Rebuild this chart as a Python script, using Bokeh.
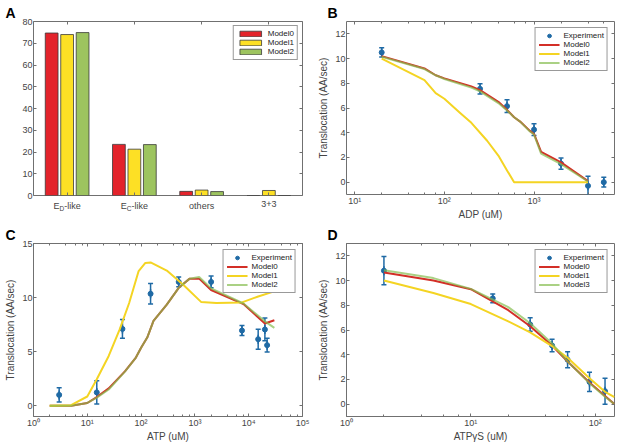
import math
from bokeh.plotting import figure
from bokeh.models import (ColumnDataSource, Legend, LegendItem, Whisker, TeeHead,
                          FixedTicker, LogAxis, LinearAxis, LogTicker, CustomJSTickFormatter, Range1d)
from bokeh.layouts import column, row
from bokeh.embed import file_html
from bokeh.resources import INLINE
from bokeh.core.properties import value

# ---------------- data ----------------
# Panel A
states = ["E_D-like", "E_C-like", "others", "3+3"]
model0_pct = [74.7, 23.5, 1.9, 0.0]
model1_pct = [74.0, 21.3, 2.5, 2.3]
model2_pct = [74.9, 23.4, 1.8, 0.0]
a_yticks = [0, 10, 20, 30, 40, 50, 60, 70, 80]

# Panel B (ADP)
adp_exp_x = [20, 250, 500, 1000, 2000, 4000, 6000]
adp_exp_y = [10.5, 7.55, 6.15, 4.25, 1.5, -0.3, 0.0]
adp_exp_err = [0.38, 0.42, 0.52, 0.48, 0.46, 0.78, 0.4]
adp_model_x = [20, 60, 80, 100, 200, 250, 400, 500, 600, 700, 900, 1000, 1200, 2000, 4000]
adp_model0 = [10.2, 9.2, 8.65, 8.4, 7.75, 7.45, 6.5, 5.85, 5.25, 4.9, 4.15, 3.9, 2.45, 1.6, 0.08]
adp_model2 = [10.15, 9.15, 8.65, 8.35, 7.65, 7.35, 6.4, 5.8, 5.25, 4.9, 4.1, 3.85, 2.3, 1.45, 0.05]
adp_model1_x = [20, 60, 80, 100, 150, 200, 300, 400, 500, 600, 4000]
adp_model1 = [10.0, 8.25, 7.2, 6.75, 5.6, 4.8, 3.35, 2.15, 0.95, 0.0, 0.0]
b_yticks = [0, 2, 4, 6, 8, 10, 12]

# Panel C (ATP)
atp_exp_x = [3, 15, 45, 150, 500, 2000, 7500, 15000, 20000, 22000]
atp_exp_y = [1.0, 1.23, 7.1, 10.35, 11.45, 11.45, 6.95, 6.15, 7.05, 5.6]
atp_exp_err = [0.65, 1.07, 0.86, 0.94, 0.46, 0.55, 0.46, 0.92, 1.05, 0.63]
atp_model_x = [2, 5, 10, 15, 25, 50, 80, 100, 130, 170, 300, 500, 800, 1200, 2000, 8000, 20000, 30000]
atp_model0 = [0, 0, 0.25, 0.8, 1.6, 3.17, 4.45, 5.35, 6.3, 7.85, 9.35, 10.9, 11.75, 11.75, 10.7, 9.4, 7.6, 7.9]
atp_model2 = [0, 0, 0.25, 0.75, 1.5, 3.15, 4.45, 5.35, 6.3, 7.85, 9.35, 10.9, 11.75, 11.9, 10.85, 9.45, 7.8, 7.2]
atp_model1_x = [2, 5, 10, 15, 25, 40, 60, 90, 120, 150, 300, 600, 1300, 2500, 7500, 15000, 27000]
atp_model1 = [0, 0.05, 0.85, 2.45, 4.6, 7.05, 9.5, 12.45, 13.2, 13.25, 12.5, 11.2, 9.6, 9.5, 9.55, 10.1, 10.5]
c_yticks = [0, 5, 10, 15]

# Panel D (ATPgammaS)
atps_exp_x = [2, 15, 30, 45, 60, 90, 120]
atps_exp_y = [10.8, 8.56, 6.45, 4.75, 3.6, 1.8, 1.05]
atps_exp_err = [1.14, 0.36, 0.55, 0.5, 0.65, 0.78, 1.05]
atps_model_x = [2, 5, 10, 20, 30, 45, 60, 90, 120, 143]
atps_model0 = [10.65, 10.0, 9.3, 7.6, 6.3, 4.75, 3.45, 1.75, 0.65, 0.0]
atps_model1 = [10.0, 9.0, 8.1, 6.7, 5.8, 4.7, 3.75, 2.1, 1.0, 0.56]
atps_model3 = [10.83, 10.2, 9.33, 7.85, 6.55, 4.9, 3.45, 1.7, 0.6, 0.0]
d_yticks = [0, 2, 4, 6, 8, 10, 12]

# ---------------- style ----------------
FONT = "Liberation Sans"
TXT = "#444444"
BOX = "#707070"
BAR_RED, BAR_YEL, BAR_GRN = "#e3232b", "#fde025", "#9dc45f"
RED, YEL, GRN = "#d32f27", "#f4d423", "#86bd50"
BLUE = "#1f6aa5"

LOG_FMT = CustomJSTickFormatter(code="""
const sup = {"-":"\u207b","0":"\u2070","1":"\u00b9","2":"\u00b2","3":"\u00b3","4":"\u2074","5":"\u2075","6":"\u2076","7":"\u2077","8":"\u2078","9":"\u2079"};
const e = Math.round(Math.log10(tick));
return "10" + String(e).split("").map(c => sup[c]).join("");
""")
EMPTY_FMT = CustomJSTickFormatter(code="return '';")


def style_axis(ax, labels=True, minor=False, label_standoff=0):
    ax.axis_line_color = None
    ax.major_tick_in = 3
    ax.major_tick_out = 0
    ax.major_tick_line_color = BOX
    ax.major_tick_line_width = 1
    if minor:
        ax.minor_tick_in = 2
        ax.minor_tick_out = 0
        ax.minor_tick_line_color = BOX
        ax.minor_tick_line_width = 1
    else:
        ax.minor_tick_line_color = None
    ax.major_label_text_font = FONT
    ax.major_label_text_font_size = "9px" if labels else "0px"
    ax.major_label_text_color = TXT
    ax.major_label_standoff = 1 if labels else 0
    ax.axis_label_text_font = FONT
    ax.axis_label_text_font_size = "10px"
    ax.axis_label_text_font_style = "normal"
    ax.axis_label_text_color = TXT
    ax.axis_label_standoff = label_standoff


def make_fig(w, h, bl, br, bt, bb, xr, yr, xlog, letter, letter_off):
    p = figure(width=w, height=h, x_range=xr, y_range=yr,
               x_axis_type="log" if xlog else "linear",
               output_backend="svg", toolbar_location=None, title=letter,
               min_border_left=bl, min_border_right=br,
               min_border_top=bt, min_border_bottom=bb)
    p.outline_line_color = BOX
    p.outline_line_width = 1
    p.xgrid.visible = False
    p.ygrid.visible = False
    p.background_fill_color = "white"
    p.border_fill_color = "white"
    p.title.text_font = FONT
    p.title.text_font_size = "14px"
    p.title.text_font_style = "bold"
    p.title.text_color = "black"
    p.title.align = "left"
    p.title.offset = letter_off
    try:
        p.title.standoff = 1
    except Exception:
        pass
    return p


def add_frame_axes(p, xlog, yticks, xticks=None, xlabels=True):
    bottom = p.below[0]
    left = p.left[0]
    style_axis(bottom, xlabels, xlog, 0)
    style_axis(left, True, False, 3)
    left.ticker = FixedTicker(ticks=yticks)
    if xlog:
        bottom.ticker = LogTicker()
        bottom.formatter = LOG_FMT
        top = LogAxis(ticker=LogTicker(), formatter=EMPTY_FMT)
    else:
        bottom.ticker = FixedTicker(ticks=xticks)
        bottom.formatter = EMPTY_FMT
        top = LinearAxis(ticker=FixedTicker(ticks=xticks), formatter=EMPTY_FMT)
    style_axis(top, False, xlog)
    p.add_layout(top, "above")
    right = LinearAxis(ticker=FixedTicker(ticks=yticks), formatter=EMPTY_FMT)
    style_axis(right, False, False)
    p.add_layout(right, "right")
    return bottom, left


def style_legend(leg, gw, gh=9, margin=6):
    leg.label_text_font = FONT
    leg.label_text_font_size = "8px"
    leg.label_text_color = "#222222"
    leg.glyph_width = gw
    leg.glyph_height = gh
    leg.label_height = 9
    leg.label_standoff = 4
    leg.spacing = 0
    leg.padding = 3
    leg.margin = margin
    leg.border_line_color = "#333333"
    leg.border_line_width = 0.8
    leg.background_fill_color = "white"
    leg.background_fill_alpha = 1


def add_series(p, ex, ey, ee, models):
    src = ColumnDataSource(dict(x=ex, y=ey,
                                upper=[a + b for a, b in zip(ey, ee)],
                                lower=[a - b for a, b in zip(ey, ee)]))
    w = Whisker(source=src, base="x", upper="upper", lower="lower", dimension="height",
                line_color=BLUE, line_width=1.5,
                upper_head=TeeHead(size=5, line_color=BLUE, line_width=1.5),
                lower_head=TeeHead(size=5, line_color=BLUE, line_width=1.5))
    p.add_layout(w)
    rbar = p.scatter("x", "y", source=src, marker="dash", angle=math.pi / 2, size=9,
                     line_color=BLUE, line_width=1.5)
    rdot = p.scatter("x", "y", source=src, marker="circle", size=5,
                     fill_color=BLUE, line_color=BLUE)
    items = [LegendItem(label="Experiment", renderers=[rbar, rdot])]
    for name, xs, ys, color, alpha in models:
        r = p.line(xs, ys, line_color=color, line_width=2, line_alpha=alpha, line_join="round")
        items.append(LegendItem(label=name, renderers=[r]))
    leg = Legend(items=items, location="top_right")
    style_legend(leg, 21)
    p.add_layout(leg)


# ---------------- layout sizes ----------------
W1, W2 = 310, 306
BL1, BR1, BL2, BR2 = 33, 8, 36, 2
H1, H2 = 222, 222
T1, B1 = 21, 27
T2, B2 = 21, 28
STRIP = 22

# ---------------- Panel A ----------------
idx = [i + 1 for i in range(len(states))]
pA = make_fig(W1, H1 - STRIP, BL1, BR1, T1, 5, Range1d(0.5, 4.5), Range1d(0, 80), False, "A", -28)
add_frame_axes(pA, False, a_yticks, idx, xlabels=False)
bars = []
for off, vals, col in [(-0.23, model0_pct, BAR_RED), (0.0, model1_pct, BAR_YEL), (0.23, model2_pct, BAR_GRN)]:
    bars.append(pA.vbar(x=[i + off for i in idx], top=vals, width=0.19, fill_color=col,
                        line_color="#3a3a3a", line_width=0.8))
legA = Legend(items=[LegendItem(label="Model0", renderers=[bars[0]]),
                     LegendItem(label="Model1", renderers=[bars[1]]),
                     LegendItem(label="Model2", renderers=[bars[2]])],
              location="top_right")
style_legend(legA, 27, gh=7, margin=4)
pA.add_layout(legA)

# category labels (with subscripts) drawn in a strip below panel A
stripA = figure(width=W1, height=STRIP, x_range=pA.x_range, y_range=Range1d(0, STRIP),
                x_axis_location=None, y_axis_location=None, toolbar_location=None,
                output_backend="svg", min_border_left=BL1, min_border_right=BR1,
                min_border_top=0, min_border_bottom=0)
stripA.outline_line_color = None
stripA.xgrid.visible = False
stripA.ygrid.visible = False
main_x, main_t, main_off, main_al = [], [], [], []
sub_x, sub_t = [], []
for i, s in zip(idx, states):
    if "_" in s:
        base, rest = s.split("_")
        main_x += [i, i]
        main_t += [base, rest[1:]]
        main_off += [-13.6, -2.9]
        main_al += ["left", "left"]
        sub_x.append(i)
        sub_t.append(rest[0])
    else:
        main_x.append(i)
        main_t.append(s)
        main_off.append(0)
        main_al.append("center")
src_main = ColumnDataSource(dict(x=main_x, y=[STRIP - 0.5] * len(main_x), t=main_t,
                                 off=main_off, al=main_al))
stripA.text(x="x", y="y", text="t", x_offset="off", text_align="al", source=src_main,
            text_baseline="top", text_font=value(FONT), text_font_size="9px", text_color=TXT)
src_sub = ColumnDataSource(dict(x=sub_x, y=[STRIP - 4] * len(sub_x), t=sub_t))
stripA.text(x="x", y="y", text="t", x_offset=-7.6, source=src_sub, text_align="left",
            text_baseline="top", text_font=value(FONT), text_font_size="6.5px", text_color=TXT)

# ---------------- Panel B ----------------
pB = make_fig(W2, H1, BL2, BR2, T1, B1, Range1d(8.1, 7900), Range1d(-1, 13), True, "B", -19)
bx, by = add_frame_axes(pB, True, b_yticks)
bx.axis_label = "ADP (uM)"
by.axis_label = "Translocation (AA/sec)"
add_series(pB, adp_exp_x, adp_exp_y, adp_exp_err,
           [("Model0", adp_model_x, adp_model0, RED, 1.0),
            ("Model1", adp_model1_x, adp_model1, YEL, 1.0),
            ("Model2", adp_model_x, adp_model2, GRN, 0.7)])

# ---------------- Panel C ----------------
pC = make_fig(W1, H2, BL1, BR1, T2, B2, Range1d(1, 1e5), Range1d(-1, 15), True, "C", -28)
cx, cy = add_frame_axes(pC, True, c_yticks)
cx.axis_label = "ATP (uM)"
cy.axis_label = "Translocation (AA/sec)"
add_series(pC, atp_exp_x, atp_exp_y, atp_exp_err,
           [("Model0", atp_model_x, atp_model0, RED, 1.0),
            ("Model1", atp_model1_x, atp_model1, YEL, 1.0),
            ("Model2", atp_model_x, atp_model2, GRN, 0.7)])

# ---------------- Panel D ----------------
pD = make_fig(W2, H2, BL2, BR2, T2, B2, Range1d(1, 143), Range1d(-1, 13), True, "D", -19)
dx, dy = add_frame_axes(pD, True, d_yticks)
dx.axis_label = "ATP\u03b3S (uM)"
dy.axis_label = "Translocation (AA/sec)"
add_series(pD, atps_exp_x, atps_exp_y, atps_exp_err,
           [("Model0", atps_model_x, atps_model0, RED, 1.0),
            ("Model1", atps_model_x, atps_model1, YEL, 1.0),
            ("Model3", atps_model_x, atps_model3, GRN, 0.7)])

layout = column(row(column(pA, stripA), pB), row(pC, pD))
open("out.html", "w").write(file_html(layout, INLINE))
